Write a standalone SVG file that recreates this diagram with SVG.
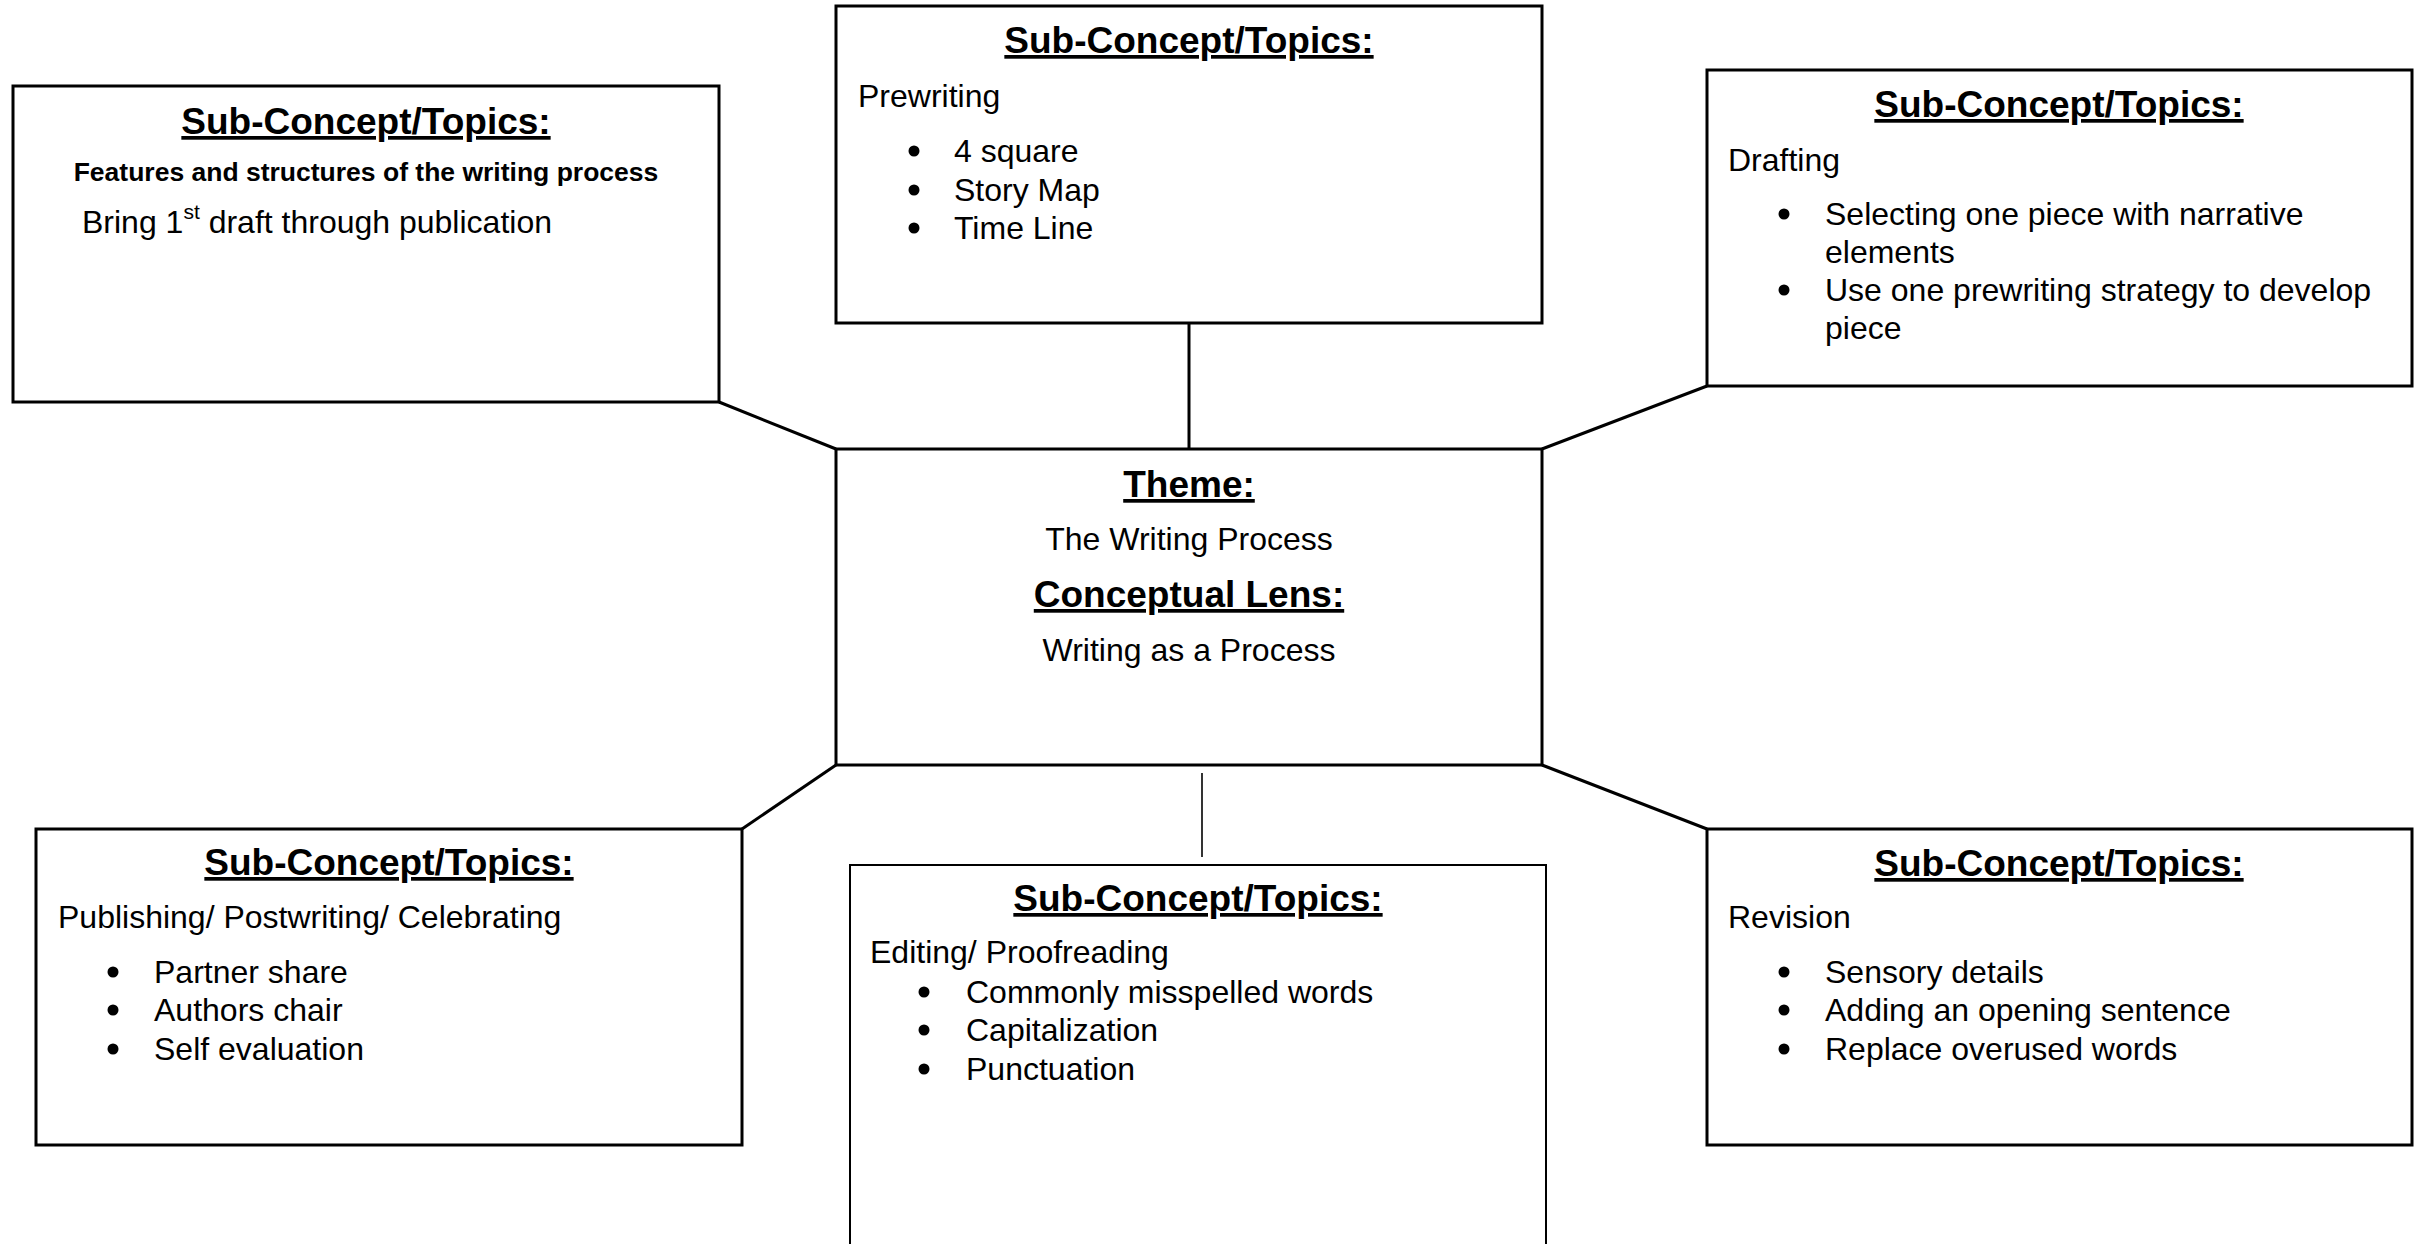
<svg xmlns="http://www.w3.org/2000/svg" width="2424" height="1244" viewBox="0 0 2424 1244">
<style>
text { font-family: "Liberation Sans", Arial, sans-serif; fill: #000; }
.box { fill: #fff; stroke: #000; stroke-width: 3; }
.thin { fill: #fff; stroke: #000; stroke-width: 2; }
.title { font-size: 37px; font-weight: bold; text-anchor: middle; text-decoration: underline; }
.body { font-size: 32px; }
.mid { text-anchor: middle; }
.blt { fill: #000; }
.sub { font-size: 26.5px; font-weight: bold; text-anchor: middle; }
.conn { stroke: #000; stroke-width: 3; fill: none; }
.conn2 { stroke: #000; stroke-width: 1.6; fill: none; }
</style>
<rect width="2424" height="1244" fill="#fff"/>
<g id="connectors">
<line class="conn" x1="719" y1="402" x2="836" y2="449"/>
<line class="conn" x1="1189" y1="323" x2="1189" y2="449"/>
<line class="conn" x1="1707" y1="386" x2="1542" y2="449"/>
<line class="conn" x1="836" y1="765" x2="742" y2="829"/>
<line class="conn2" x1="1202" y1="773" x2="1202" y2="857"/>
<line class="conn" x1="1542" y1="765" x2="1707" y2="829"/>
</g>
<g id="node-features">
<rect class="box" x="13" y="86" width="706" height="316"/>
<text class="title" x="366" y="134">Sub-Concept/Topics:</text>
<text class="sub" x="366" y="181">Features and structures of the writing process</text>
<text class="body" x="82" y="233">Bring 1<tspan font-size="21" dy="-14">st</tspan><tspan dy="14"> draft through publication</tspan></text>
</g>
<g id="node-prewriting">
<rect class="box" x="836" y="6" width="706" height="317"/>
<text class="title" x="1189" y="53">Sub-Concept/Topics:</text>
<text class="body" x="858" y="107">Prewriting</text>
<circle class="blt" cx="914" cy="151" r="5.5"/><text class="body" x="954" y="162">4 square</text>
<circle class="blt" cx="914" cy="190" r="5.5"/><text class="body" x="954" y="201">Story Map</text>
<circle class="blt" cx="914" cy="228" r="5.5"/><text class="body" x="954" y="239">Time Line</text>
</g>
<g id="node-drafting">
<rect class="box" x="1707" y="70" width="705" height="316"/>
<text class="title" x="2059" y="117">Sub-Concept/Topics:</text>
<text class="body" x="1728" y="171">Drafting</text>
<circle class="blt" cx="1784" cy="214" r="5.5"/><text class="body" x="1825" y="225">Selecting one piece with narrative</text>
<text class="body" x="1825" y="263">elements</text>
<circle class="blt" cx="1784" cy="290" r="5.5"/><text class="body" x="1825" y="301">Use one prewriting strategy to develop</text>
<text class="body" x="1825" y="339">piece</text>
</g>
<g id="node-theme">
<rect class="box" x="836" y="449" width="706" height="316"/>
<text class="title" x="1189" y="497">Theme:</text>
<text class="body mid" x="1189" y="550">The Writing Process</text>
<text class="title" x="1189" y="607">Conceptual Lens:</text>
<text class="body mid" x="1189" y="661">Writing as a Process</text>
</g>
<g id="node-publishing">
<rect class="box" x="36" y="829" width="706" height="316"/>
<text class="title" x="389" y="875">Sub-Concept/Topics:</text>
<text class="body" x="58" y="928">Publishing/ Postwriting/ Celebrating</text>
<circle class="blt" cx="113" cy="972" r="5.5"/><text class="body" x="154" y="983">Partner share</text>
<circle class="blt" cx="113" cy="1010" r="5.5"/><text class="body" x="154" y="1021">Authors chair</text>
<circle class="blt" cx="113" cy="1049" r="5.5"/><text class="body" x="154" y="1060">Self evaluation</text>
</g>
<g id="node-editing">
<rect class="thin" x="850" y="865" width="696" height="420"/>
<text class="title" x="1198" y="911">Sub-Concept/Topics:</text>
<text class="body" x="870" y="963">Editing/ Proofreading</text>
<circle class="blt" cx="924" cy="992" r="5.5"/><text class="body" x="966" y="1003">Commonly misspelled words</text>
<circle class="blt" cx="924" cy="1030" r="5.5"/><text class="body" x="966" y="1041">Capitalization</text>
<circle class="blt" cx="924" cy="1069" r="5.5"/><text class="body" x="966" y="1080">Punctuation</text>
</g>
<g id="node-revision">
<rect class="box" x="1707" y="829" width="705" height="316"/>
<text class="title" x="2059" y="876">Sub-Concept/Topics:</text>
<text class="body" x="1728" y="928">Revision</text>
<circle class="blt" cx="1784" cy="972" r="5.5"/><text class="body" x="1825" y="983">Sensory details</text>
<circle class="blt" cx="1784" cy="1010" r="5.5"/><text class="body" x="1825" y="1021">Adding an opening sentence</text>
<circle class="blt" cx="1784" cy="1049" r="5.5"/><text class="body" x="1825" y="1060">Replace overused words</text>
</g>
</svg>
